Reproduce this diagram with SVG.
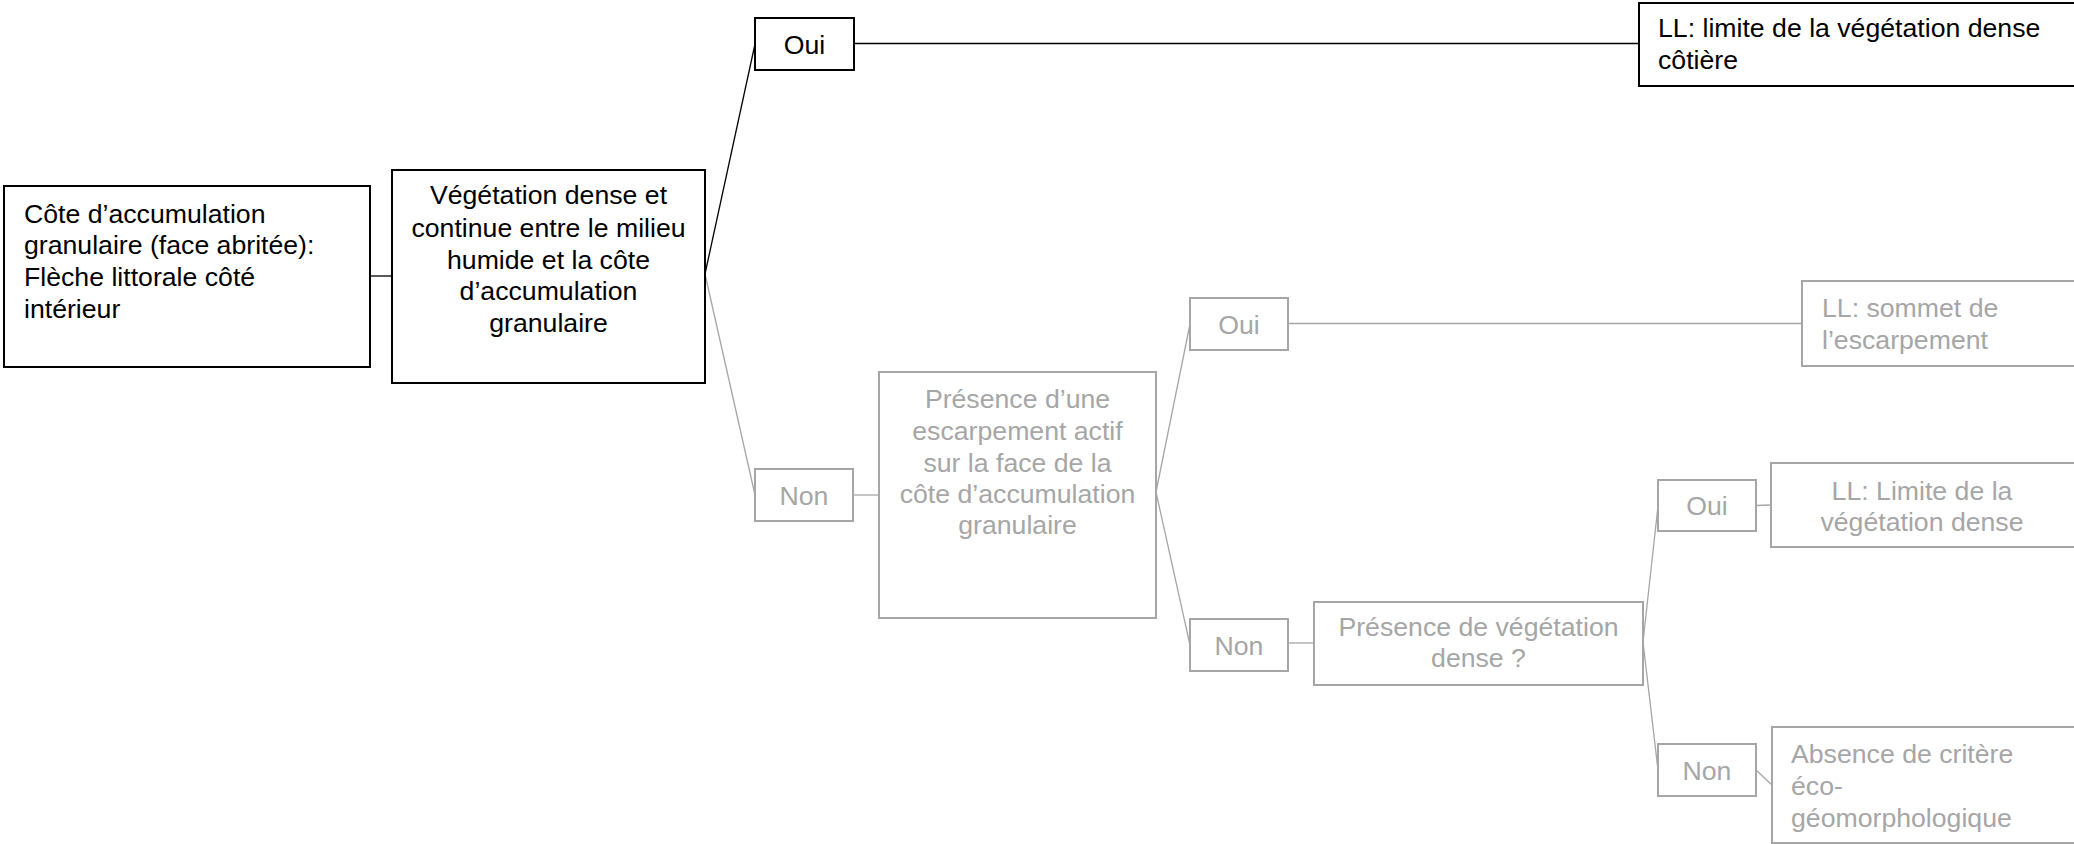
<svg xmlns="http://www.w3.org/2000/svg" width="2074" height="844" viewBox="0 0 2074 844">
<style>
  .bk rect { fill: #ffffff; stroke: #000000; stroke-width: 2; }
  .gr rect { fill: #ffffff; stroke: #A6A6A6; stroke-width: 2; }
  text { font-family: "Liberation Sans", Arial, sans-serif; font-size: 26.67px; }
  .bk text { fill: #000000; }
  .gr text { fill: #A6A6A6; }
  .m { text-anchor: middle; }
  #connectors line { stroke-width: 1.3; }
  .cb { stroke: #000000; }
  .cg { stroke: #A6A6A6; }
</style>
<rect x="0" y="0" width="2074" height="844" fill="#ffffff"/>
<g id="connectors">
  <line class="cb" x1="370" y1="276" x2="392" y2="276"/>
  <line class="cb" x1="705" y1="274" x2="755" y2="44"/>
  <line class="cb" x1="854" y1="43.5" x2="1639" y2="43.5"/>
  <line class="cg" x1="705" y1="274" x2="755" y2="495"/>
  <line class="cg" x1="853" y1="495" x2="879" y2="495"/>
  <line class="cg" x1="1156" y1="492" x2="1190" y2="324"/>
  <line class="cg" x1="1156" y1="492" x2="1190" y2="645"/>
  <line class="cg" x1="1288" y1="323.5" x2="1802" y2="323.5"/>
  <line class="cg" x1="1288" y1="643" x2="1314" y2="643"/>
  <line class="cg" x1="1643" y1="642" x2="1658" y2="506"/>
  <line class="cg" x1="1643" y1="642" x2="1658" y2="770"/>
  <line class="cg" x1="1756" y1="505.5" x2="1771" y2="505"/>
  <line class="cg" x1="1756" y1="770" x2="1772" y2="785"/>
</g>
<g id="n-start" class="bk">
  <rect x="4" y="186" width="366" height="181"/>
  <text x="24" y="222.5">Côte d’accumulation</text>
  <text x="24" y="254">granulaire (face abritée):</text>
  <text x="24" y="286">Flèche littorale côté</text>
  <text x="24" y="317.5">intérieur</text>
</g>
<g id="n-vegetation" class="bk">
  <rect x="392" y="170" width="313" height="213"/>
  <text class="m" x="548.5" y="204">Végétation dense et</text>
  <text class="m" x="548.5" y="236.5">continue entre le milieu</text>
  <text class="m" x="548.5" y="268.5">humide et la côte</text>
  <text class="m" x="548.5" y="300">d’accumulation</text>
  <text class="m" x="548.5" y="332">granulaire</text>
</g>
<g id="n-oui1" class="bk">
  <rect x="755" y="18" width="99" height="52"/>
  <text class="m" x="804.5" y="54">Oui</text>
</g>
<g id="n-ll-cotiere" class="bk">
  <rect x="1639" y="3" width="460" height="83"/>
  <text x="1658" y="37">LL: limite de la végétation dense</text>
  <text x="1658" y="69">côtière</text>
</g>
<g id="n-non1" class="gr">
  <rect x="755" y="469" width="98" height="52"/>
  <text class="m" x="804" y="505">Non</text>
</g>
<g id="n-escarpement" class="gr">
  <rect x="879" y="372" width="277" height="246"/>
  <text class="m" x="1017.5" y="407.5">Présence d’une</text>
  <text class="m" x="1017.5" y="439.5">escarpement actif</text>
  <text class="m" x="1017.5" y="471.5">sur la face de la</text>
  <text class="m" x="1017.5" y="503">côte d’accumulation</text>
  <text class="m" x="1017.5" y="534">granulaire</text>
</g>
<g id="n-oui2" class="gr">
  <rect x="1190" y="298" width="98" height="52"/>
  <text class="m" x="1239" y="333.5">Oui</text>
</g>
<g id="n-ll-sommet" class="gr">
  <rect x="1802" y="281" width="300" height="85"/>
  <text x="1822" y="317">LL: sommet de</text>
  <text x="1822" y="348.5">l’escarpement</text>
</g>
<g id="n-non2" class="gr">
  <rect x="1190" y="619" width="98" height="52"/>
  <text class="m" x="1239" y="655">Non</text>
</g>
<g id="n-presence-veg" class="gr">
  <rect x="1314" y="602" width="329" height="83"/>
  <text class="m" x="1478.5" y="635.5">Présence de végétation</text>
  <text class="m" x="1478.5" y="667">dense ?</text>
</g>
<g id="n-oui3" class="gr">
  <rect x="1658" y="480" width="98" height="51"/>
  <text class="m" x="1707" y="515">Oui</text>
</g>
<g id="n-ll-limite" class="gr">
  <rect x="1771" y="463" width="330" height="84"/>
  <text class="m" x="1922" y="499.5">LL: Limite de la</text>
  <text class="m" x="1922" y="531">végétation dense</text>
</g>
<g id="n-non3" class="gr">
  <rect x="1658" y="744" width="98" height="52"/>
  <text class="m" x="1707" y="780">Non</text>
</g>
<g id="n-absence" class="gr">
  <rect x="1772" y="727" width="330" height="116"/>
  <text x="1791" y="763">Absence de critère</text>
  <text x="1791" y="795">éco-</text>
  <text x="1791" y="827">géomorphologique</text>
</g>
</svg>
